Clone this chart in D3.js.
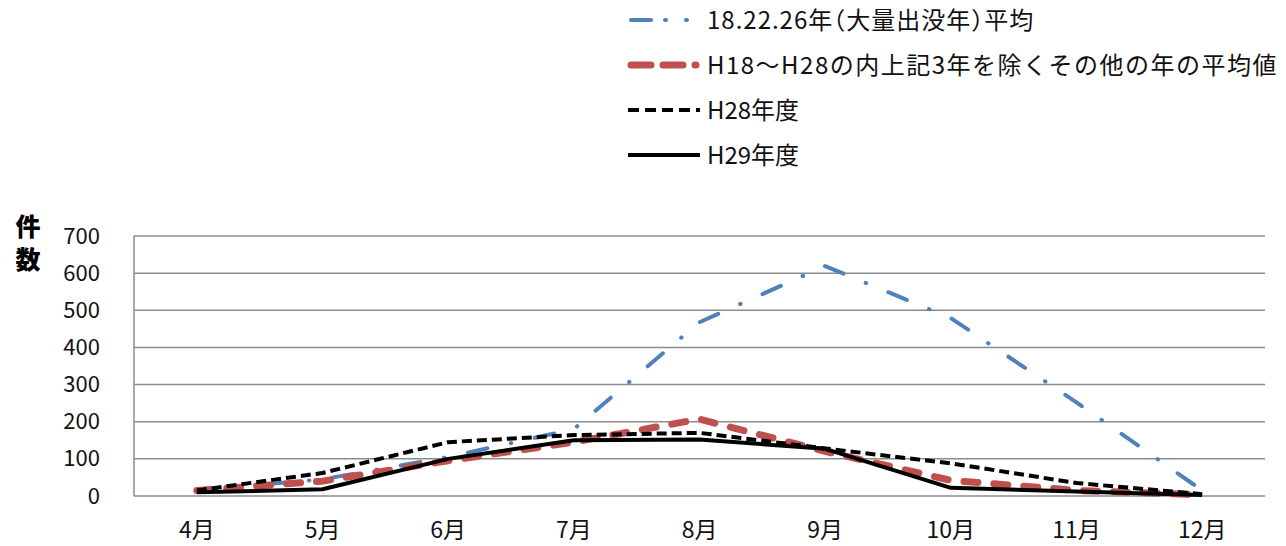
<!DOCTYPE html>
<html><head><meta charset="utf-8">
<script src="https://cdn.jsdelivr.net/npm/d3@7"></script>
<style>body{margin:0;background:#fff}svg{display:block}</style>
</head><body><svg id="c" width="1286" height="546"></svg>
<script>
const months = ["4月","5月","6月","7月","8月","9月","10月","11月","12月"];
const yTicks = [0,100,200,300,400,500,600,700];
const seriesNames = ["18.22.26年（大量出没年）平均","H18〜H28の内上記3年を除くその他の年の平均値","H28年度","H29年度"];
const bigYears = [15,45,105,180,468,619,479,252,15];
const otherYears = [15,40,95,145,207,120,42,15,3];
const h28 = [15,62,145,164,170,128,88,35,5];
const h29 = [10,18,100,150,152,127,22,12,3];

(function(){
const svg = d3.select("#c");
const font = "'Noto Sans CJK JP','Noto Sans',sans-serif";
const pLeft = 134, pRight = 1265, pTop = 236, pBottom = 496;
const x = d3.scaleBand().domain(months).range([pLeft,pRight]);
const y = d3.scaleLinear().domain([0,700]).range([pBottom,pTop]);

svg.append("g").selectAll("line").data(yTicks).join("line")
  .attr("x1",pLeft).attr("x2",pRight).attr("y1",d=>y(d)).attr("y2",d=>y(d))
  .attr("stroke","#8c8c8c").attr("stroke-width",1.5);
svg.append("line").attr("x1",pLeft).attr("x2",pLeft).attr("y1",pTop).attr("y2",pBottom)
  .attr("stroke","#8c8c8c").attr("stroke-width",1.5);

const ya = svg.append("g").attr("transform",`translate(${pLeft},0)`)
  .call(d3.axisLeft(y).tickValues(yTicks).tickSize(0).tickPadding(34));
ya.select(".domain").remove();
ya.selectAll("text").attr("font-family",font).attr("font-size",22).attr("fill","#111");

const xa = svg.append("g").attr("transform",`translate(0,${pBottom})`)
  .call(d3.axisBottom(x).tickSize(0).tickPadding(26));
xa.select(".domain").remove();
xa.selectAll("text").attr("font-family",font).attr("font-size",23).attr("fill","#111");

svg.append("text").attr("x",28).attr("y",236).attr("text-anchor","middle")
  .attr("font-family",font).attr("font-weight","900").attr("font-size",25).text("件");
svg.append("text").attr("x",28).attr("y",269).attr("text-anchor","middle")
  .attr("font-family",font).attr("font-weight","900").attr("font-size",25).text("数");

const styles = [
  {data:bigYears, color:"#4f81bd", width:4, dash:"20,24,0.5,24", cap:"round", ls:1, feat:"'halt'"},
  {data:otherYears, color:"#c0504d", width:7, dash:"14,16", cap:"round", ls:1.5, feat:"normal"},
  {data:h28, color:"#000", width:4, dash:"10,5", cap:"butt", ls:0, feat:"normal"},
  {data:h29, color:"#000", width:4, dash:null, cap:"butt", ls:0, feat:"normal"}
];
const legendDash = ["20,14,1,20,1,20","20,12,20,12,1,20","11,6","none"];
const line = d3.line().x((d,i)=>x(months[i])+x.bandwidth()/2).y(d=>y(d));
styles.forEach(s=>{
  svg.append("path").attr("d",line(s.data)).attr("fill","none")
    .attr("stroke",s.color).attr("stroke-width",s.width)
    .attr("stroke-dasharray",s.dash).attr("stroke-linecap",s.cap)
    .attr("stroke-linejoin","round");
});

const legY = [20,65,110,155];
const lg = svg.append("g");
styles.forEach((s,i)=>{
  lg.append("line").attr("x1",s.cap==="round"?631:628).attr("x2",700).attr("y1",legY[i]).attr("y2",legY[i])
    .attr("stroke",s.color).attr("stroke-width",s.width)
    .attr("stroke-dasharray",legendDash[i]).attr("stroke-linecap",s.cap);
  lg.append("text").attr("x",707).attr("y",legY[i]).attr("dy","0.36em")
    .attr("font-family",font).attr("font-size",24).attr("fill","#111")
    .attr("letter-spacing",s.ls).style("font-feature-settings",s.feat).text(seriesNames[i]);
});
})();
</script></body></html>
